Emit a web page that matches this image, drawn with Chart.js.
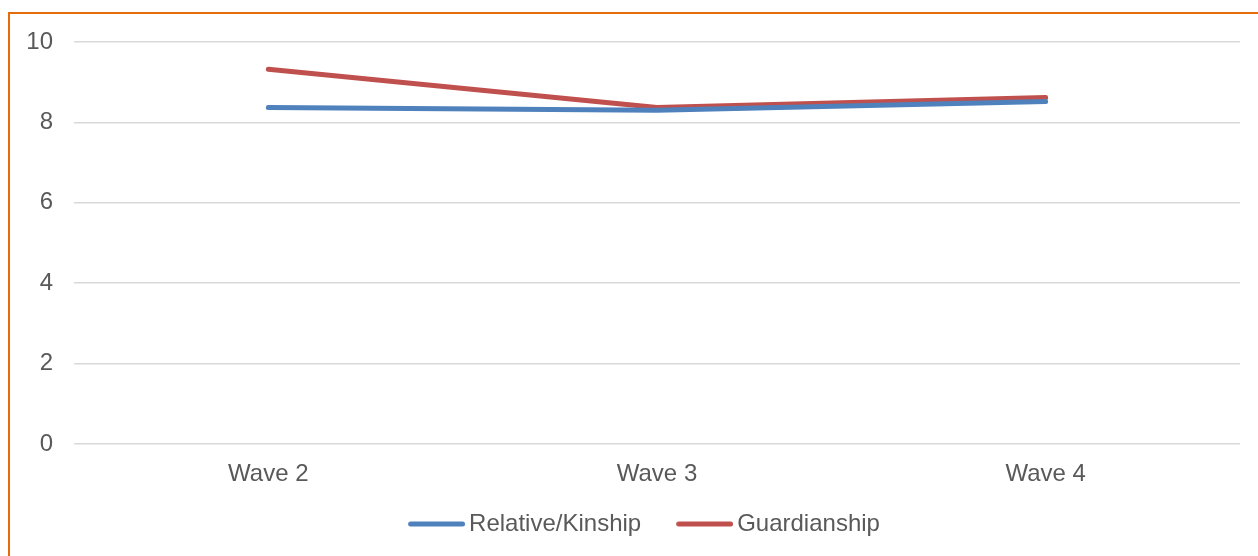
<!DOCTYPE html>
<html>
<head>
<meta charset="utf-8">
<script src="https://cdn.jsdelivr.net/npm/chart.js@4/dist/chart.umd.min.js"></script>
<style>
  html, body { margin: 0; padding: 0; background: #ffffff; overflow: hidden; }
  #frame { position: absolute; left: 8px; top: 12px; width: 1400px; height: 700px; border: 2px solid #E46C0A; box-sizing: border-box; }
  #wrap { position: absolute; left: 0; top: 0; width: 1258px; height: 556px; }
</style>
</head>
<body>
<div id="frame"></div>
<div id="wrap"><canvas id="c"></canvas></div>
<script>
const categories = ["Wave 2", "Wave 3", "Wave 4"];
const seriesNames = ["Relative/Kinship", "Guardianship"];
const relativeKinship = [8.37, 8.30, 8.52];
const guardianship = [9.32, 8.37, 8.62];
const yTicks = [0, 2, 4, 6, 8, 10];
const colors = ["#4F81BD", "#C0504D"];

const FONT = "'Liberation Sans', Arial, sans-serif";
const TEXT = "#595959";

function legendSwatch(color) {
  const cv = document.createElement('canvas');
  cv.width = 90; cv.height = 8;
  const g = cv.getContext('2d');
  g.strokeStyle = color; g.lineWidth = 5; g.lineCap = 'round';
  g.beginPath(); g.moveTo(35.5, 4); g.lineTo(87.5, 4); g.stroke();
  return cv;
}
const swatches = colors.map(legendSwatch);

new Chart(document.getElementById('c'), {
  type: 'line',
  data: {
    labels: categories,
    datasets: [
      { label: seriesNames[0], data: relativeKinship, borderColor: colors[0], backgroundColor: colors[0] },
      { label: seriesNames[1], data: guardianship, borderColor: colors[1], backgroundColor: colors[1] }
    ].map(d => Object.assign(d, { borderWidth: 5, pointRadius: 0, tension: 0, fill: false,
      borderCapStyle: 'round', borderJoinStyle: 'round' }))
  },
  options: {
    responsive: true,
    maintainAspectRatio: false,
    animation: false,
    layout: { padding: { left: 23, right: 18, top: 42, bottom: 10 } },
    scales: {
      x: {
        offset: true,
        grid: { display: false },
        border: { display: false },
        ticks: { color: TEXT, font: { family: FONT, size: 24 }, padding: 8, maxRotation: 0 },
        afterFit: s => { s.height = 58; }
      },
      y: {
        min: 0, max: 10,
        afterBuildTicks: s => { s.ticks = yTicks.map(v => ({ value: v })); },
        grid: { color: '#d9d9d9', lineWidth: 1.5, drawTicks: false },
        border: { display: false },
        ticks: { color: TEXT, font: { family: FONT, size: 24 }, padding: 21 },
        afterFit: s => { s.width = 51; }
      }
    },
    plugins: {
      tooltip: { enabled: false },
      legend: {
        position: 'bottom',
        labels: {
          color: TEXT,
          font: { family: FONT, size: 24 },
          padding: 10,
          usePointStyle: true,
          pointStyleWidth: 74,
          generateLabels: chart => Chart.defaults.plugins.legend.labels.generateLabels(chart)
            .map((it, i) => Object.assign(it, { pointStyle: swatches[i] }))
        }
      }
    }
  }
});
</script>
</body>
</html>
